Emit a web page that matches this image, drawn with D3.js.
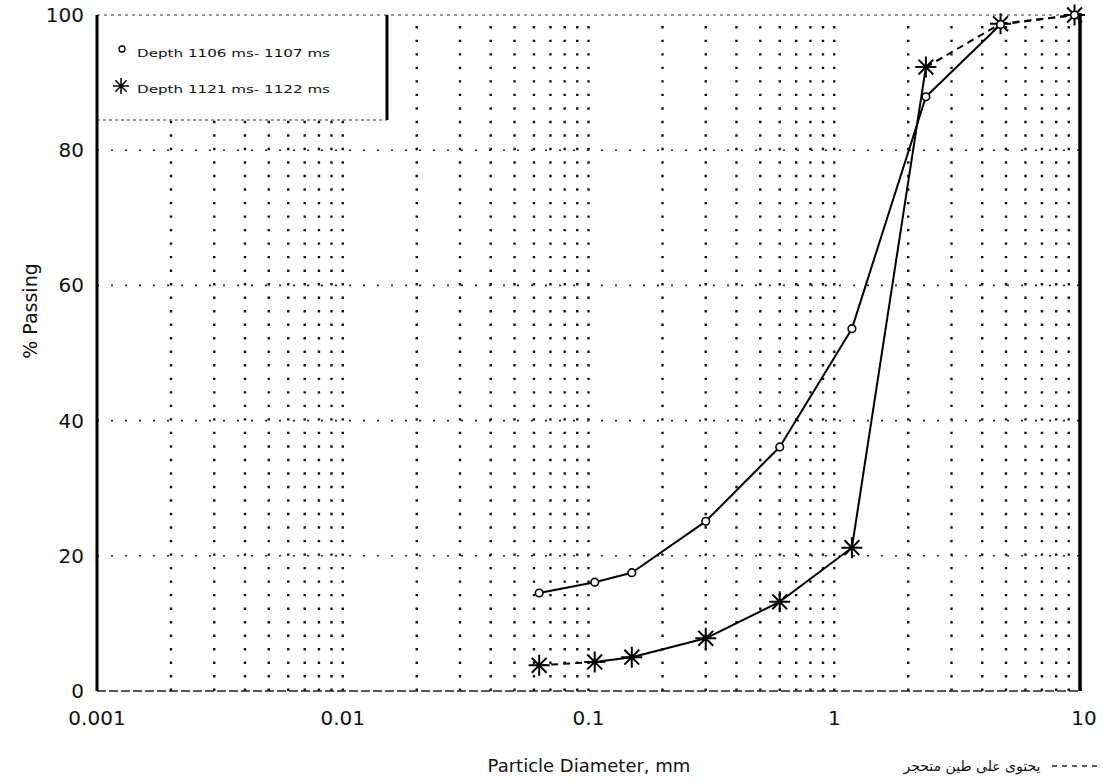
<!DOCTYPE html>
<html>
<head>
<meta charset="utf-8">
<script src="https://cdn.jsdelivr.net/npm/d3@7"></script>
<style>
  body { margin: 0; background: #fff; }
  text { font-family: "DejaVu Sans", sans-serif; fill: #111; }
</style>
</head>
<body>
<script>
const width = 1105,
      height = 784;

// sieve openings, mm
const sieveSizes = [0.063, 0.106, 0.15, 0.3, 0.6, 1.18, 2.36, 4.75, 9.5];
// % passing per sample
const passing1106 = [14.5, 16.1, 17.5, 25.1, 36.1, 53.6, 87.9, 98.6, 100];
const passing1121 = [3.8, 4.3, 5.0, 7.8, 13.2, 21.2, 92.3, 98.7, 100];
// segment i (point i -> i+1) drawn dashed: contains hardened clay
const clay1106 = [false, false, false, false, false, false, false, true];
const clay1121 = [true, false, false, false, false, false, true, true];

const xTickValues = [0.001, 0.01, 0.1, 1, 10];
const xTickLabels = ["0.001", "0.01", "0.1", "1", "10"];
const yTickValues = [0, 20, 40, 60, 80, 100];
const legendLabels = ["Depth 1106 ms- 1107 ms", "Depth 1121 ms- 1122 ms"];
const xTitle = "Particle Diameter, mm";
const yTitle = "% Passing";
const noteText = "يحتوى على طين متحجر";

const x = d3.scaleLog().domain([0.001, 10]).range([97, 1080]);
const y = d3.scaleLinear().domain([0, 100]).range([691, 15]);

const svg = d3.select("body").append("svg")
    .attr("width", width)
    .attr("height", height);

// dotted grid: one column of dots at every log minor tick, a dot every 2 %
const dotStep = y(0) - y(2);
const gridCols = x.ticks().filter(v => v > 0.001 && v < 10);

svg.append("g")
    .selectAll("line")
    .data(gridCols)
    .enter().append("line")
    .attr("x1", d => x(d)).attr("x2", d => x(d))
    .attr("y1", y(0)).attr("y2", y(100))
    .attr("stroke", "#111")
    .attr("stroke-width", 2.4)
    .attr("stroke-dasharray", `2.4 ${dotStep - 2.4}`);

svg.append("g")
    .selectAll("line")
    .data(yTickValues.filter(v => v > 0 && v < 100))
    .enter().append("line")
    .attr("x1", x(0.001)).attr("x2", x(10))
    .attr("y1", d => y(d)).attr("y2", d => y(d))
    .attr("stroke", "#222")
    .attr("stroke-width", 1.6)
    .attr("stroke-dasharray", "2 12");

// frame
svg.append("line")
    .attr("x1", x(0.001)).attr("x2", x(10))
    .attr("y1", y(100)).attr("y2", y(100))
    .attr("stroke", "#333").attr("stroke-width", 1.2)
    .attr("stroke-dasharray", "3 4");

svg.append("line")
    .attr("x1", x(0.001)).attr("x2", x(10))
    .attr("y1", y(0)).attr("y2", y(0))
    .attr("stroke", "#222").attr("stroke-width", 1.5)
    .attr("stroke-dasharray", "9 3");

svg.append("line")
    .attr("x1", x(0.001)).attr("x2", x(0.001))
    .attr("y1", y(0)).attr("y2", y(100))
    .attr("stroke", "#000").attr("stroke-width", 3);

svg.append("line")
    .attr("x1", x(10)).attr("x2", x(10))
    .attr("y1", y(0)).attr("y2", y(100) - 2)
    .attr("stroke", "#000").attr("stroke-width", 3.5);

// tick labels
svg.append("g")
    .selectAll("text")
    .data(yTickValues)
    .enter().append("text")
    .attr("x", 84)
    .attr("y", d => y(d) + 7)
    .attr("text-anchor", "end")
    .attr("font-size", 20)
    .text(d => d);

svg.append("g")
    .selectAll("text")
    .data(xTickValues)
    .enter().append("text")
    .attr("x", d => x(d) + (d === 10 ? 4 : 0))
    .attr("y", 725)
    .attr("text-anchor", "middle")
    .attr("font-size", 20)
    .text((d, i) => xTickLabels[i]);

svg.append("text")
    .attr("transform", `translate(37,${(y(0) + y(100)) / 2 - 42}) rotate(-90)`)
    .attr("text-anchor", "middle")
    .attr("font-size", 19)
    .text(yTitle);

svg.append("text")
    .attr("x", 589)
    .attr("y", 772)
    .attr("text-anchor", "middle")
    .attr("font-size", 18)
    .text(xTitle);

svg.append("text")
    .attr("x", 972)
    .attr("y", 771)
    .attr("text-anchor", "middle")
    .attr("font-size", 14)
    .text(noteText);

svg.append("line")
    .attr("x1", 1052).attr("x2", 1100)
    .attr("y1", 766).attr("y2", 766)
    .attr("stroke", "#222").attr("stroke-width", 1.5)
    .attr("stroke-dasharray", "5 5");

// curves, one path per segment so clay segments can be dashed
function drawSeries(values, clay, width) {
    const pts = sieveSizes.map((s, i) => [x(s), y(values[i])]);
    const segs = d3.pairs(pts).map((p, i) => ({p, dashed: clay[i]}));
    svg.append("g")
        .selectAll("path")
        .data(segs)
        .enter().append("path")
        .attr("d", d => d3.line()(d.p))
        .attr("fill", "none")
        .attr("stroke", "#000")
        .attr("stroke-width", width)
        .attr("stroke-dasharray", d => d.dashed ? "7 5" : null);
    return pts;
}

const pts1106 = drawSeries(passing1106, clay1106, 2);
const pts1121 = drawSeries(passing1121, clay1121, 2);

function asterisk(r) {
    const a = r * Math.SQRT1_2;
    return `M${-r},0L${r},0M0,${-r}L0,${r}M${-a},${-a}L${a},${a}M${-a},${a}L${a},${-a}`;
}

svg.append("g")
    .selectAll("path")
    .data(pts1121)
    .enter().append("path")
    .attr("transform", d => `translate(${d[0]},${d[1]})`)
    .attr("d", asterisk(10.5))
    .attr("stroke", "#000")
    .attr("stroke-width", 2);

svg.append("g")
    .selectAll("circle")
    .data(pts1106)
    .enter().append("circle")
    .attr("cx", d => d[0])
    .attr("cy", d => d[1])
    .attr("r", 3.8)
    .attr("fill", "#fff")
    .attr("stroke", "#000")
    .attr("stroke-width", 1.6);

// legend box
const legend = svg.append("g");
legend.append("rect")
    .attr("x", x(0.001) + 2).attr("y", y(100) + 1)
    .attr("width", 387 - x(0.001) - 2).attr("height", 104)
    .attr("fill", "#fff");
legend.append("line")
    .attr("x1", 387).attr("x2", 387)
    .attr("y1", y(100)).attr("y2", 120)
    .attr("stroke", "#000").attr("stroke-width", 3);
legend.append("line")
    .attr("x1", x(0.001)).attr("x2", 387)
    .attr("y1", 120).attr("y2", 120)
    .attr("stroke", "#333").attr("stroke-width", 1.2)
    .attr("stroke-dasharray", "3 3");

legend.append("circle")
    .attr("cx", 122).attr("cy", 49).attr("r", 3)
    .attr("fill", "#fff").attr("stroke", "#000").attr("stroke-width", 1.3);
legend.append("path")
    .attr("transform", "translate(121,86)")
    .attr("d", asterisk(8))
    .attr("stroke", "#000").attr("stroke-width", 1.5);

legend.selectAll("text.leg")
    .data(legendLabels)
    .enter().append("text")
    .attr("class", "leg")
    .attr("x", 137)
    .attr("y", (d, i) => 57 + i * 36)
    .attr("font-size", 11)
    .attr("textLength", 193)
    .attr("lengthAdjust", "spacingAndGlyphs")
    .text(d => d);
</script>
</body>
</html>
